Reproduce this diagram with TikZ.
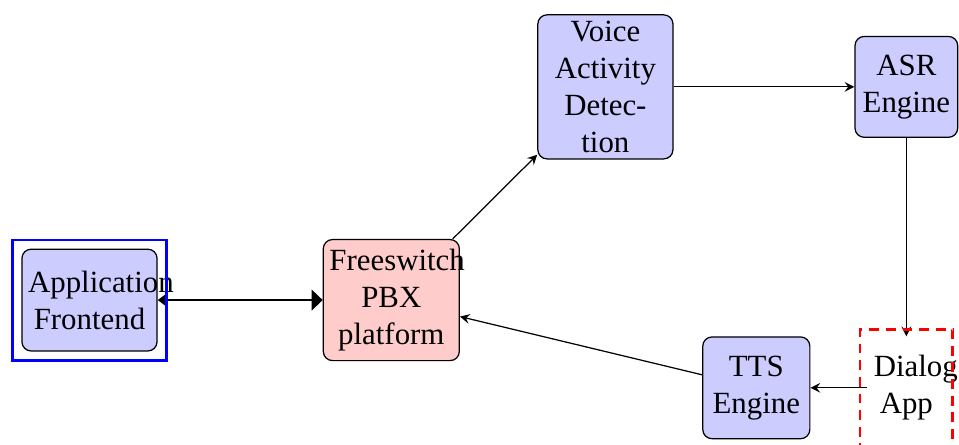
\documentclass[tikz,border=0pt]{standalone}
\usepackage{fontspec}
\setmainfont{Liberation Serif}
\usepackage{tikz}
\usetikzlibrary{arrows.meta,arrows,fit,positioning}
\tikzset{
  block/.style={draw,rounded corners=3pt,fill=blue!20,align=center,inner sep=2pt,minimum height=1.16cm},
  pbx/.style={block,fill=red!20},
  userbox/.style={draw=blue,thick,inner sep=0.1cm},
  dialogbox/.style={draw=red,thick,dash pattern=on 3.2pt off 2.2pt,inner sep=0.08cm}
}
\tikzstyle{arrow} = [->,>=stealth]

\begin{document}
\begin{tikzpicture}
  \useasboundingbox (0,0) rectangle (10.93,-5.07);
  % Blocks
  \node[block,text width=1.40cm] (app) at (1.02,-3.42) {Application\\Frontend};
  \node[pbx,text width=1.41cm,minimum height=1.38cm] (pbx) at (4.46,-3.42) {Freeswitch\\PBX\\platform};
  \node[block,text width=1.40cm] (vad) at (6.90,-0.99) {Voice\\Activity\\Detec-\\tion};
  \node[block,text width=1.03cm,minimum height=1.15cm] (asr) at (10.33,-0.99) {ASR\\Engine};
  \node[block,text width=1.08cm] (tts) at (8.62,-4.42) {TTS\\Engine};
  \node[align=center,inner sep=2pt,text width=0.74cm,minimum height=1.16cm] (dialog) at (10.33,-4.42) {Dialog\\App};
  % Links
  \draw[{Triangle[length=3.2pt,width=4.6pt]}-{Triangle[length=3.6pt,width=6.8pt]}] (app) -- (pbx);
  \draw[arrow] (pbx) -- (vad);
  \draw[arrow] (vad) -- (asr);
  \draw[arrow] (asr) -- (dialog);
  \draw[arrow] (dialog) -- (tts);
  \draw[arrow] (tts) -- (pbx);
  % Frames
  \node[userbox,fit=(app)] (appframe) {};
  \node[dialogbox,fit=(dialog)] (dialogframe) {};
\end{tikzpicture}
\end{document}
